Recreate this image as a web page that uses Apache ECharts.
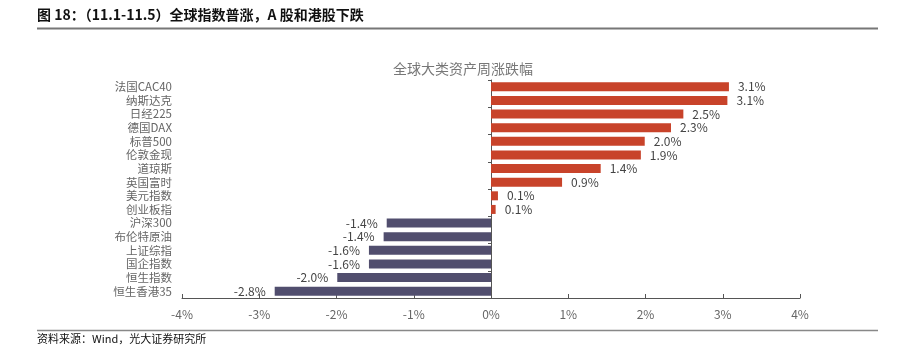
<!DOCTYPE html>
<html><head><meta charset="utf-8">
<script src="https://cdn.jsdelivr.net/npm/echarts@6/dist/echarts.min.js"></script>
<style>html,body{margin:0;padding:0;background:#fff}#c{width:903px;height:355px}</style>
</head><body><div id="c"></div>
<script>
var categories = ['法国CAC40','纳斯达克','日经225','德国DAX','标普500','伦敦金现','道琼斯','英国富时','美元指数','创业板指','沪深300','布伦特原油','上证综指','国企指数','恒生指数','恒生香港35'];
var values = [3.08, 3.06, 2.49, 2.33, 1.99, 1.94, 1.42, 0.92, 0.09, 0.06, -1.35, -1.39, -1.58, -1.58, -1.99, -2.80];
var xTicks = [-4, -3, -2, -1, 0, 1, 2, 3, 4];
var headerText = '图 18：（11.1-11.5）全球指数普涨，A 股和港股下跌';
var chartTitle = '全球大类资产周涨跌幅';
var sourceText = '资料来源：Wind，光大证券研究所';

var font = '"Noto Sans CJK SC", "Noto Sans", sans-serif';
var chart = echarts.init(document.getElementById('c'), null, {renderer: 'canvas'});
var data = values.map(function (v) {
  return {value: v, itemStyle: {color: v >= 0 ? '#C8432A' : '#514E6E'},
    label: {position: v >= 0 ? 'right' : 'left'}};
});
chart.setOption({
  backgroundColor: '#fff',
  animation: false,
  title: {text: chartTitle, left: 458, textAlign: 'center', top: 57,
    textStyle: {fontSize: 14, fontWeight: 'normal', color: '#777', fontFamily: font}},
  graphic: [
    {type: 'text', left: 37, top: 8, style: {text: headerText, font: 'bold 14px ' + font, fill: '#111'}},
    {type: 'line', shape: {x1: 37, y1: 28.5, x2: 878, y2: 28.5}, style: {stroke: '#777', lineWidth: 2}},
    {type: 'line', shape: {x1: 37, y1: 330.5, x2: 878, y2: 330.5}, style: {stroke: '#888', lineWidth: 1.5}},
    {type: 'text', left: 37, top: 333, style: {text: sourceText, font: '11px ' + font, fill: '#111'}}
  ],
  grid: {left: 182, right: 103, top: 80, bottom: 57, containLabel: false},
  xAxis: {type: 'value', min: xTicks[0], max: xTicks[xTicks.length - 1], interval: 1,
    axisLine: {show: true, onZero: false, lineStyle: {color: '#555'}},
    axisTick: {show: true, inside: true, length: 4, lineStyle: {color: '#555'}},
    splitLine: {show: false},
    axisLabel: {formatter: '{value}%', color: '#666', fontSize: 12, margin: 10, fontFamily: font}},
  yAxis: [
    {type: 'category', data: categories, inverse: true,
      axisLine: {show: false, onZero: false}, axisTick: {show: false},
      axisLabel: {color: '#666', fontSize: 11.5, margin: 10, interval: 0, fontFamily: font}},
    {type: 'category', data: categories, inverse: true, position: 'left',
      axisLine: {show: true, onZero: true, lineStyle: {color: '#555'}},
      axisTick: {show: true, length: 3, lineStyle: {color: '#555'}},
      axisLabel: {show: false}}
  ],
  series: [{
    type: 'bar', yAxisIndex: 0, data: data, barWidth: 9,
    label: {show: true, color: '#444', fontSize: 12, distance: 9, fontFamily: font,
      formatter: function (p) { return p.value.toFixed(1) + '%'; }}
  }]
});
</script></body></html>
